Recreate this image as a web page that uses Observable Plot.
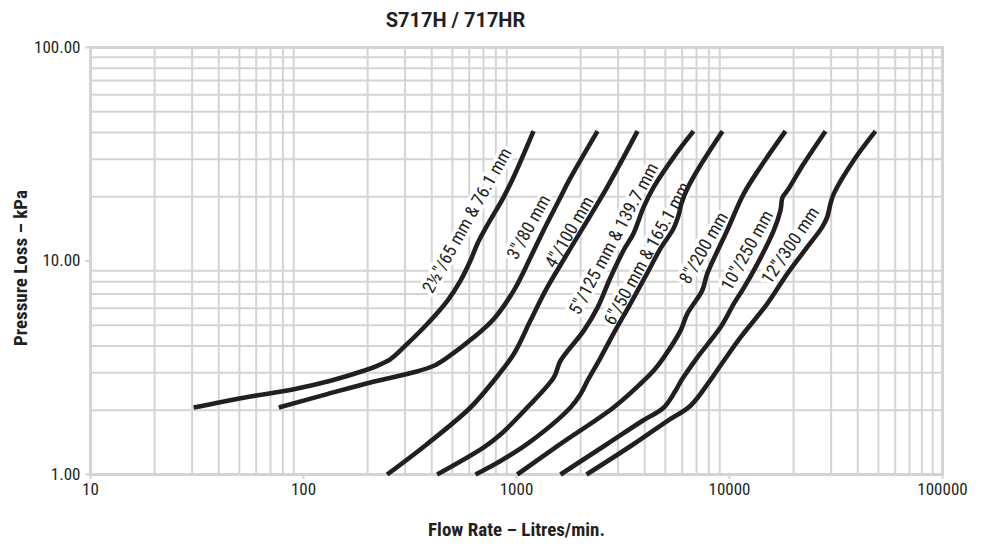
<!DOCTYPE html>
<html>
<head>
<meta charset="utf-8">
<script src="https://cdn.jsdelivr.net/npm/d3@7"></script>
<script src="https://cdn.jsdelivr.net/npm/@observablehq/plot@0.6"></script>
<style>
  html, body { margin: 0; padding: 0; background: #fff; }
  #chart svg text { font-stretch: 75%; }
</style>
</head>
<body>
<div id="chart"></div>
<script>
// ---- Data ----
const seriesNames = [
  "2½\"/65 mm & 76.1 mm",
  "3\"/80 mm",
  "4\"/100 mm",
  "5\"/125 mm & 139.7 mm",
  "6\"/50 mm & 165.1 mm",
  "8\"/200 mm",
  "10\"/250 mm",
  "12\"/300 mm"
];

const flow1 = [30.5, 52.4, 90.1, 133.9, 191.9, 221.8, 256.2, 306.9, 380.8, 474.5, 546, 608, 656, 715, 869, 968, 1202];
const loss1 = [2.06, 2.29, 2.51, 2.75, 3.06, 3.23, 3.47, 4.09, 5.07, 6.53, 8.1, 10.05, 12.08, 14.21, 19.87, 24.66, 40.55];

const flow2 = [76.6, 129.2, 206.3, 329.5, 409, 472.8, 630, 782, 971, 1163, 1339, 1609, 1735, 2401];
const loss2 = [2.06, 2.38, 2.70, 3.01, 3.23, 3.53, 4.39, 5.35, 7.27, 10.38, 13.91, 19.87, 23.1, 40.55];

const flow3 = [247, 381, 608, 782, 971, 1163, 1368, 1730, 2666, 3700];
const loss3 = [1.0, 1.39, 2.06, 2.75, 3.67, 5.26, 7.27, 10.81, 22.2, 40.55];

const flow4 = [424, 702, 841, 1123, 1497, 1609, 2070, 2401, 2762, 3179, 3542, 3947, 4398, 5459, 6776];
const loss4 = [1.0, 1.34, 1.54, 2.06, 2.85, 3.41, 4.72, 6.05, 8.37, 11.2, 13.46, 17.83, 22.13, 30.6, 40.55];

const flow5 = [642, 841, 1123, 1793, 1998, 2155, 2480, 2854, 3429, 4121, 4745, 5459, 5764, 5953, 6350, 7306, 9270];
const loss5 = [1.0, 1.157, 1.39, 2.06, 2.38, 2.75, 3.52, 4.57, 6.32, 8.83, 11.45, 14.21, 16.36, 18.62, 21.9, 28.08, 40.55];

const flow6 = [1008, 1609, 2854, 3821, 4398, 4899, 5889, 6329, 7443, 7859, 9754, 11670, 13980, 18320];
const loss6 = [1.0, 1.39, 2.06, 2.66, 3.06, 3.52, 4.72, 5.65, 7.27, 8.71, 13.91, 20.68, 27.56, 40.55];

const flow7 = [1609, 2666, 3892, 4915, 5579, 5998, 7054, 9072, 10470, 11470, 13010, 16140, 17350, 17740, 18730, 22330, 28230];
const loss7 = [1.0, 1.39, 1.78, 2.06, 2.47, 2.80, 3.53, 4.89, 6.30, 7.27, 9.03, 13.91, 17.26, 19.87, 21.43, 28.6, 40.55];

const flow8 = [2132, 3554, 5099, 6561, 7995, 9402, 11260, 15030, 18660, 23160, 27240, 28750, 29800, 30890, 38330, 48470];
const loss8 = [1.0, 1.39, 1.78, 2.10, 2.70, 3.41, 4.39, 6.30, 8.71, 11.61, 14.41, 16.05, 18.56, 20.68, 29.65, 40.55];

// where each curve's name sits (flow, pressure loss)
const labelFlow = [587, 1142, 1774, 2863, 4108, 7577, 12110, 19330];
const labelLoss = [15.49, 14.41, 13.65, 12.71, 10.81, 11.51, 11.2, 11.83];

const xTicks = [10, 100, 1000, 10000, 100000];
const yTicks = [1, 10, 100];
const xGrid = [20, 30, 40, 50, 60, 70, 80, 90,
               200, 300, 400, 500, 600, 700, 800, 900,
               2000, 3000, 4000, 5000, 6000, 7000, 8000, 9000,
               20000, 30000, 40000, 50000, 60000, 70000, 80000, 90000];
const yGrid = [2, 3, 4, 5, 6, 7, 8, 9, 20, 30, 40, 50, 60, 70, 80, 90];

const titleText = "S717H / 717HR";
const xTitle = "Flow Rate – Litres/min.";
const yTitle = "Pressure Loss – kPa";

// ---- Build tables ----
const flows = [flow1, flow2, flow3, flow4, flow5, flow6, flow7, flow8];
const losses = [loss1, loss2, loss3, loss4, loss5, loss6, loss7, loss8];
const rows = [];
flows.forEach((f, i) => f.forEach((v, j) => rows.push({series: seriesNames[i], flow: v, loss: losses[i][j]})));

const labelAngles = [-60.7, -61, -60.1, -61.8, -61.2, -60, -61, -56];
const labels = seriesNames.map((name, i) => ({name, flow: labelFlow[i], loss: labelLoss[i], angle: labelAngles[i]}));

const GRID = "#d4d4d4";
const INK = "#231f20";
const FONT = 'Roboto, "Open Sans", sans-serif';

const chart = Plot.plot({
  width: 983,
  height: 544,
  marginTop: 47,
  marginBottom: 70,
  marginLeft: 90,
  marginRight: 41,
  style: {fontFamily: FONT, background: "#fff", color: INK},
  x: {type: "log", domain: [10, 100000]},
  y: {type: "log", domain: [1, 100]},
  marks: [
    Plot.ruleX(xGrid, {stroke: GRID, strokeWidth: 2}),
    Plot.ruleY(yGrid, {stroke: GRID, strokeWidth: 2}),
    Plot.frame({stroke: GRID, strokeWidth: 3}),
    Plot.axisX({ticks: xTicks, tickFormat: d => String(d), tickSize: 5, tickPadding: 3,
                stroke: GRID, strokeWidth: 2, fill: INK, fontSize: 17, label: null}),
    Plot.axisY({ticks: yTicks, tickFormat: d => d.toFixed(2), tickSize: 5, tickPadding: 5,
                stroke: GRID, strokeWidth: 2, fill: INK, fontSize: 17, label: null}),
    Plot.text(labels, {x: "flow", y: "loss", text: "name", rotate: "angle",
                       fontSize: 18, fill: INK, stroke: "white", strokeWidth: 7,
                       strokeLinejoin: "round", textAnchor: "middle", lineAnchor: "middle"}),
    Plot.line(rows, {x: "flow", y: "loss", z: "series", stroke: INK, strokeWidth: 4.6,
                     curve: "catmull-rom", strokeLinecap: "butt"}),
    Plot.text([titleText], {frameAnchor: "top", dx: 455 - 516, dy: -27, text: d => d,
                            textAnchor: "middle", lineAnchor: "middle",
                            fontWeight: "bold", fontSize: 20, fill: INK}),
    Plot.text([xTitle], {frameAnchor: "bottom", dy: 55, text: d => d,
                         textAnchor: "middle", lineAnchor: "middle",
                         fontWeight: "bold", fontSize: 19, fill: INK}),
    Plot.text([yTitle], {frameAnchor: "left", dx: -70, dy: 7, rotate: -90, text: d => d,
                         textAnchor: "middle", lineAnchor: "middle",
                         fontWeight: "bold", fontSize: 19, fill: INK})
  ]
});

document.getElementById("chart").appendChild(chart);
// the main title uses the normal (non-condensed) width
d3.select(chart).selectAll("text").each(function () {
  if (this.textContent === titleText) this.style.fontStretch = "normal";
});
</script>
</body>
</html>
